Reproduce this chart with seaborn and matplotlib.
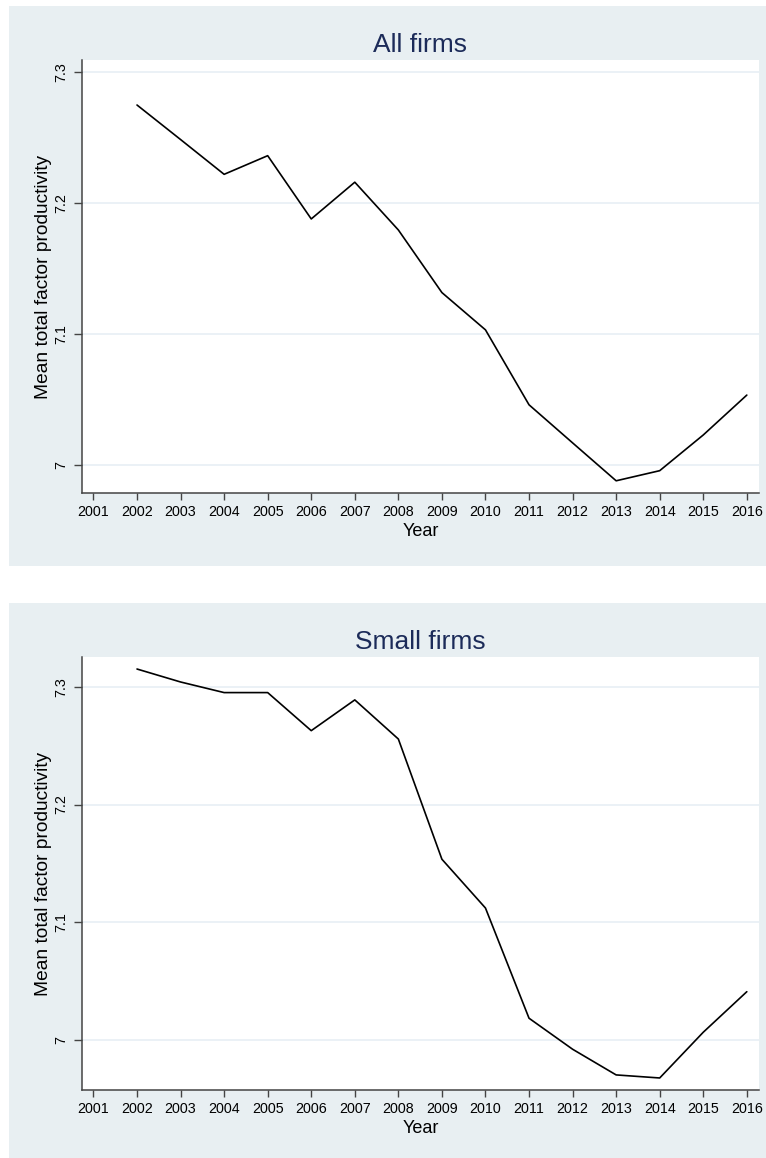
import matplotlib
matplotlib.use("Agg")
import matplotlib.pyplot as plt
import seaborn as sns
import pandas as pd
from matplotlib.patches import Rectangle

# Mean total factor productivity by year
years = list(range(2002, 2017))
all_firms = [7.2746, 7.2483, 7.2218, 7.2360, 7.1878, 7.2158, 7.1794, 7.1317,
             7.1033, 7.0462, 7.0172, 6.9883, 6.9960, 7.0232, 7.0536]
small_firms = [7.3150, 7.3040, 7.2950, 7.2950, 7.2627, 7.2888, 7.2556, 7.1536,
               7.1122, 7.0187, 6.9924, 6.9706, 6.9680, 7.0068, 7.0412]
year_ticks = list(range(2001, 2017))
y_ticks = [7.0, 7.1, 7.2, 7.3]
y_tick_labels = ["7", "7.1", "7.2", "7.3"]
titles = ["All firms", "Small firms"]

sns.set_style("ticks")
plt.rcParams["font.family"] = ["Liberation Sans", "DejaVu Sans"]
plt.rcParams["text.color"] = "black"
plt.rcParams["xtick.labelcolor"] = "black"
plt.rcParams["ytick.labelcolor"] = "black"
plt.rcParams["axes.labelcolor"] = "black"

W, H = 766, 1158
fig = plt.figure(figsize=(W / 100, H / 100), dpi=100, facecolor="white")

panel_bg = "#e8eff2"
grid_col = "#e8eff5"
spine_col = "#444444"
title_col = "#1c2b59"


def px_rect(x0, y0, x1, y1):
    return [x0 / W, 1 - y1 / H, (x1 - x0) / W, (y1 - y0) / H]


panels = [
    dict(bg=(9, 6, 766, 566), ax=(81.7, 60, 759, 493), ylim=(6.979, 7.3089),
         values=all_firms),
    dict(bg=(9, 603, 766, 1158), ax=(81.7, 657, 759, 1090), ylim=(6.9578, 7.3252),
         values=small_firms),
]

for title, p in zip(titles, panels):
    x0, y0, x1, y1 = p["bg"]
    fig.patches.append(Rectangle((x0 / W, 1 - y1 / H), (x1 - x0) / W, (y1 - y0) / H,
                                 transform=fig.transFigure, facecolor=panel_bg,
                                 edgecolor="none", zorder=-5))
    ax = fig.add_axes(px_rect(*p["ax"]))
    ax.set_zorder(1)
    ax.set_facecolor("white")
    df = pd.DataFrame({"Year": years, "TFP": p["values"]})
    sns.lineplot(data=df, x="Year", y="TFP", ax=ax, color="black", linewidth=1.2)

    ax.set_xlim(2000.73, 2016.28)
    ax.set_ylim(*p["ylim"])
    ax.set_xticks(year_ticks)
    ax.set_xticklabels([str(y) for y in year_ticks], fontsize=10.3)
    ax.set_yticks(y_ticks)
    ax.set_yticklabels(y_tick_labels, fontsize=10.3, rotation=90, va="center")
    for yv in y_ticks:
        ax.axhline(yv, color=grid_col, linewidth=1.2, zorder=0)

    ax.tick_params(axis="x", direction="out", length=5, width=1, color=spine_col, pad=3.5)
    ax.tick_params(axis="y", direction="out", length=6, width=1, color=spine_col, pad=3.5)
    for side in ("top", "right"):
        ax.spines[side].set_visible(False)
    for side in ("left", "bottom"):
        ax.spines[side].set_color(spine_col)
        ax.spines[side].set_linewidth(1.1)

    ax.set_xlabel("Year", fontsize=13, labelpad=3)
    ax.set_ylabel("Mean total factor productivity", fontsize=13.8, labelpad=2)
    ax.set_title(title, fontsize=19, color=title_col, pad=5.5)

fig.savefig("out.png", dpi=100, facecolor="white")
